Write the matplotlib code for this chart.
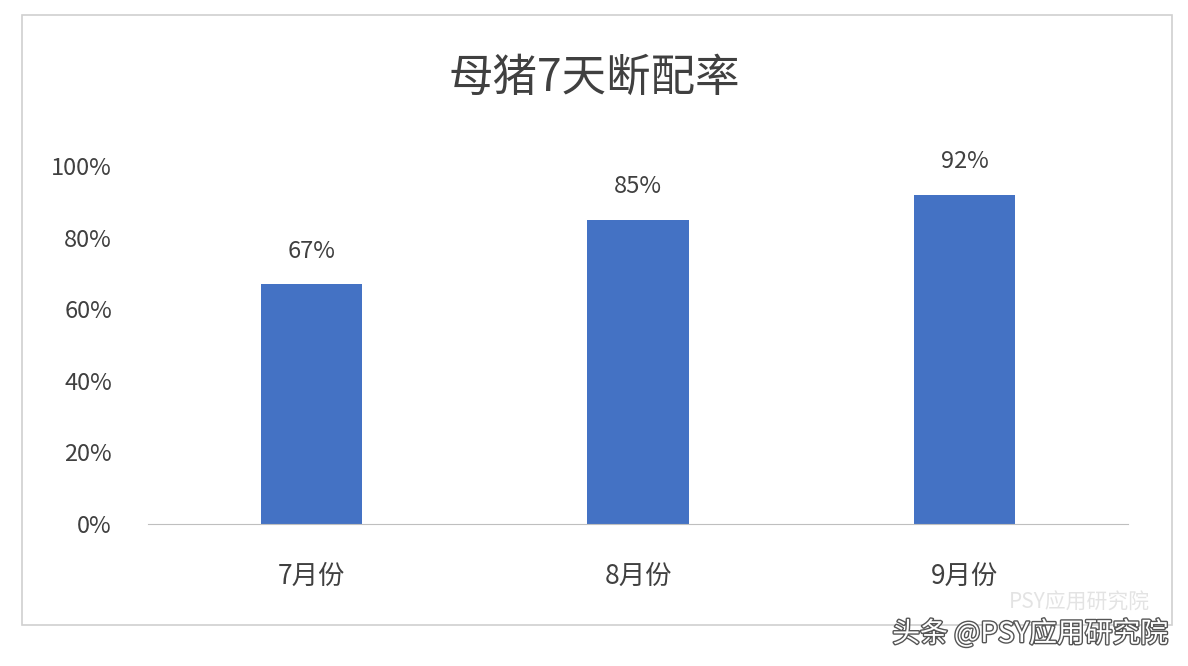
import matplotlib
matplotlib.use("Agg")
import matplotlib.pyplot as plt
import matplotlib.patheffects as pe
from matplotlib.patches import Rectangle

plt.rcParams['font.family'] = ['Noto Sans CJK SC', 'DejaVu Sans']

# data
months = ['7月份', '8月份', '9月份']
rates = [67, 85, 92]
y_ticks = [0, 20, 40, 60, 80, 100]

fig = plt.figure(figsize=(11.88, 6.66), dpi=100)
fig.patches.append(Rectangle((22 / 1188, 1 - 625 / 666), 1150 / 1188, 610 / 666,
                             transform=fig.transFigure, fill=False,
                             edgecolor='#d0d0d0', linewidth=1.2))

ax = fig.add_axes([148 / 1188, 1 - 524 / 666, 980 / 1188, 358 / 666])
x = range(len(months))
ax.bar(x, rates, width=0.31, color='#4472C4')
for xi, v in zip(x, rates):
    ax.text(xi, v + 6, f'{v}%', ha='center', va='bottom', fontsize=17, color='#404040')

ax.set_xlim(-0.5, 2.5)
ax.set_ylim(0, 100)
ax.set_xticks(list(x))
ax.set_xticklabels(months, fontsize=19, color='#404040')
ax.set_yticks(y_ticks)
ax.set_yticklabels([f'{t}%' for t in y_ticks], fontsize=17, color='#404040')
ax.tick_params(length=0, axis='x', pad=28)
ax.tick_params(length=0, axis='y', pad=26)
for s in ['top', 'right', 'left']:
    ax.spines[s].set_visible(False)
ax.spines['bottom'].set_color('#bfbfbf')

fig.text(0.5, 1 - 78 / 666, '母猪7天断配率', ha='center', va='center',
         fontsize=32, color='#404040')

# watermark
fig.text(1150 / 1188, 1 - 603 / 666, 'PSY应用研究院', ha='right', va='center',
         fontsize=15, color='#dddddd', alpha=0.8)
fig.text(1168 / 1188, 1 - 634 / 666, '头条 @PSY应用研究院', ha='right', va='center',
         fontsize=20, color='white',
         path_effects=[pe.withStroke(linewidth=2, foreground='#555555')])

fig.savefig('out.png', dpi=100, facecolor='white')
